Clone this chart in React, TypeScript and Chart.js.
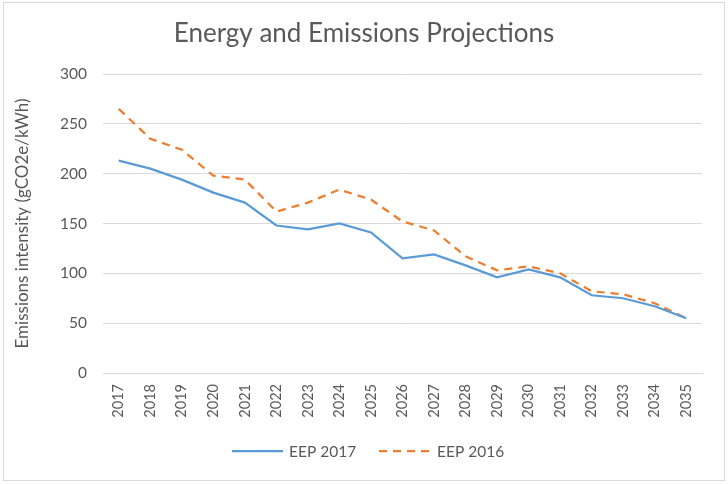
import React, { useEffect, useRef } from "react";
import { Chart, registerables } from "chart.js";

Chart.register(...registerables);

// Projection years along the horizontal axis
const years = [
  "2017", "2018", "2019", "2020", "2021", "2022", "2023", "2024", "2025", "2026",
  "2027", "2028", "2029", "2030", "2031", "2032", "2033", "2034", "2035",
];

// Emissions intensity, gCO2e/kWh
const eep2017 = [213, 205, 194, 181, 171, 148, 144, 150, 141, 115, 119, 108, 96, 104, 96, 78, 75, 67, 55];
const eep2016 = [265, 235, 224, 198, 194, 162, 171, 184, 174, 152, 143, 117, 103, 107, 100, 82, 79, 70, 55];

const yMin = 0;
const yMax = 300;
const yStep = 50;

const seriesNames = ["EEP 2017", "EEP 2016"];
const seriesColors = ["#5B9BD5", "#ED7D31"];
const titleText = "Energy and Emissions Projections";
const yTitle = "Emissions intensity (gCO2e/kWh)";

const FONT = "Lato, 'Open Sans', sans-serif";
const TEXT = "#595959";
const GRID = "#D9D9D9";

const framePlugin = {
  id: "frameTitleLegend",
  beforeDraw(chart: any) {
    const ctx = chart.ctx;
    ctx.save();
    ctx.fillStyle = "#ffffff";
    ctx.fillRect(0, 0, chart.width, chart.height);
    ctx.strokeStyle = GRID;
    ctx.lineWidth = 1;
    ctx.strokeRect(3.5, 2.5, chart.width - 7, chart.height - 6);
    ctx.restore();
  },
  afterDraw(chart: any) {
    const ctx = chart.ctx;
    ctx.save();
    // Chart title
    ctx.fillStyle = TEXT;
    ctx.font = `26px ${FONT}`;
    ctx.textAlign = "center";
    ctx.textBaseline = "middle";
    ctx.fillText(titleText, 364, 34);

    // Legend
    const ly = 451;
    const entries = [
      { x0: 232, x1: 283, tx: 289, dash: [] as number[] },
      { x0: 379, x1: 430, tx: 437, dash: [8, 6] },
    ];
    ctx.font = `15.5px ${FONT}`;
    ctx.textAlign = "left";
    entries.forEach((e, i) => {
      ctx.beginPath();
      ctx.setLineDash(e.dash);
      ctx.strokeStyle = seriesColors[i];
      ctx.lineWidth = 2.25;
      ctx.moveTo(e.x0, ly);
      ctx.lineTo(e.x1, ly);
      ctx.stroke();
      ctx.setLineDash([]);
      ctx.fillStyle = TEXT;
      ctx.fillText(seriesNames[i], e.tx, ly + 1);
    });
    ctx.restore();
  },
};

export default function App() {
  const canvasRef = useRef<HTMLCanvasElement | null>(null);

  useEffect(() => {
    if (!canvasRef.current) return;
    const chart = new Chart(canvasRef.current, {
      type: "line",
      data: {
        labels: years,
        datasets: [
          {
            label: seriesNames[0],
            data: eep2017,
            borderColor: seriesColors[0],
            backgroundColor: seriesColors[0],
            borderWidth: 2.25,
            pointRadius: 0,
            tension: 0,
            fill: false,
          },
          {
            label: seriesNames[1],
            data: eep2016,
            borderColor: seriesColors[1],
            backgroundColor: seriesColors[1],
            borderWidth: 2.25,
            borderDash: [8, 6],
            pointRadius: 0,
            tension: 0,
            fill: false,
          },
        ],
      },
      options: {
        animation: false,
        responsive: false,
        maintainAspectRatio: false,
        layout: { padding: { top: 74, right: 26, bottom: 41, left: 0 } },
        plugins: {
          legend: { display: false },
          title: { display: false },
          tooltip: { enabled: false },
        },
        scales: {
          x: {
            type: "category",
            offset: true,
            grid: { display: false, drawTicks: false },
            border: { display: true, color: GRID, width: 1 },
            ticks: {
              color: TEXT,
              font: { family: FONT, size: 14.5 },
              minRotation: 90,
              maxRotation: 90,
              autoSkip: false,
              padding: 11,
            },
            afterFit: (scale: any) => {
              scale.height = 70;
            },
          },
          y: {
            min: yMin,
            max: yMax,
            grid: { color: GRID, lineWidth: 1, drawTicks: false },
            border: { display: false },
            ticks: {
              stepSize: yStep,
              color: TEXT,
              font: { family: FONT, size: 15.5 },
              padding: 16,
            },
            title: {
              display: true,
              text: yTitle,
              color: TEXT,
              font: { family: FONT, size: 17, weight: "normal" },
              padding: { top: 12, bottom: 0 },
            },
            afterFit: (scale: any) => {
              scale.width = 103;
            },
          },
        },
      },
      plugins: [framePlugin],
    });
    return () => chart.destroy();
  }, []);

  return (
    <div style={{ position: "absolute", left: 0, top: 0, width: 728, height: 484 }}>
      <canvas ref={canvasRef} width={728} height={484} style={{ display: "block" }} />
    </div>
  );
}
